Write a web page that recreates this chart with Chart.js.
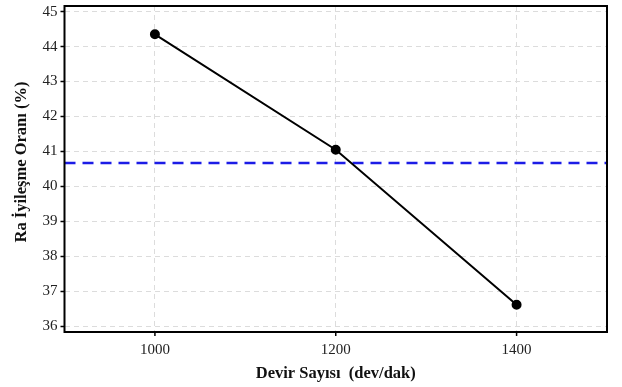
<!DOCTYPE html>
<html>
<head>
<meta charset="utf-8">
<script src="https://cdn.jsdelivr.net/npm/chart.js@4/dist/chart.umd.min.js"></script>
<style>
  html, body { margin: 0; padding: 0; background: #fff; }
  #wrap { width: 622px; height: 387px; position: relative; }
</style>
</head>
<body>
<div id="wrap"><canvas id="chart"></canvas></div>
<script>
// spindle speed vs. Ra improvement
const SPEEDS = [1000, 1200, 1400];
const IMPROVEMENT = [44.35, 41.05, 36.62];
const MEAN_IMPROVEMENT = 40.67;

const X_TICKS = [1000, 1200, 1400];
const Y_TICKS = [36, 37, 38, 39, 40, 41, 42, 43, 44, 45];
const X_RANGE = [900, 1500];
const Y_RANGE = [35.84, 45.16];

const X_TITLE = "Devir Sayısı  (dev/dak)";
const Y_TITLE = "Ra İyileşme Oranı (%)";

const serif = "'Liberation Serif', 'Times New Roman', serif";

// black frame, outward tick marks and the rotated y title
const frame = {
  id: "frame",
  afterDatasetsDraw(chart){
    const a = chart.chartArea, ctx = chart.ctx;
    const xs = chart.scales.x, ys = chart.scales.y;
    ctx.save();
    ctx.strokeStyle = "#000";
    ctx.lineWidth = 1.5;
    ctx.beginPath();
    xs.ticks.forEach(t=>{
      const px = xs.getPixelForValue(t.value);
      ctx.moveTo(px, a.bottom); ctx.lineTo(px, a.bottom + 4);
    });
    ys.ticks.forEach(t=>{
      const py = ys.getPixelForValue(t.value);
      ctx.moveTo(a.left, py); ctx.lineTo(a.left - 4, py);
    });
    ctx.stroke();

    ctx.lineWidth = 2;
    ctx.strokeRect(a.left, a.top, a.right - a.left, a.bottom - a.top);

    ctx.translate(22, 162);
    ctx.rotate(-Math.PI / 2);
    ctx.fillStyle = "#111";
    ctx.font = "bold 16.5px " + serif;
    ctx.textAlign = "center";
    ctx.textBaseline = "middle";
    ctx.fillText(Y_TITLE, 0, 0);
    ctx.restore();
  }
};

const gridOpts = {
  color: "#dcdcdc",
  lineWidth: 1,
  drawTicks: true,
  tickLength: 4,
  tickColor: "rgba(0,0,0,0)"
};

new Chart(document.getElementById("chart"), {
  type: "line",
  data: {
    datasets: [
      {
        data: SPEEDS.map((x, i)=>({ x, y: IMPROVEMENT[i] })),
        borderColor: "#000",
        backgroundColor: "#000",
        borderWidth: 2,
        pointRadius: 4,
        pointBackgroundColor: "#000",
        tension: 0
      },
      {
        data: X_RANGE.map(x=>({ x, y: MEAN_IMPROVEMENT })),
        borderColor: "#1c1ce6",
        borderWidth: 2.5,
        borderDash: [11, 7],
        pointRadius: 0
      }
    ]
  },
  options: {
    responsive: true,
    maintainAspectRatio: false,
    animation: false,
    layout: { padding: { top: 6, right: 15, left: 0, bottom: 0 } },
    plugins: { legend: { display: false }, tooltip: { enabled: false } },
    scales: {
      x: {
        type: "linear",
        min: X_RANGE[0],
        max: X_RANGE[1],
        afterBuildTicks: (s)=>{ s.ticks = X_TICKS.map(v=>({ value: v })); },
        afterFit: (s)=>{ s.height = 55; },
        grid: gridOpts,
        border: { display: false, dash: [5, 4] },
        ticks: {
          color: "#222", padding: 5,
          font: { family: serif, size: 15 },
          callback: (v)=>String(v)
        },
        title: {
          display: true,
          text: X_TITLE,
          color: "#111",
          font: { family: serif, size: 16.5, weight: "bold" },
          padding: { top: 0, bottom: 3 }
        }
      },
      y: {
        min: Y_RANGE[0],
        max: Y_RANGE[1],
        afterBuildTicks: (s)=>{ s.ticks = Y_TICKS.map(v=>({ value: v })); },
        afterFit: (s)=>{
          s.width = 64.5;
          // the end ticks sit inside the range, so no extra room is needed
          s.paddingTop = 0;
          s.paddingBottom = 0;
        },
        grid: gridOpts,
        border: { display: false, dash: [5, 4] },
        ticks: { color: "#222", padding: 3, font: { family: serif, size: 15 } },
        title: { display: false }
      }
    }
  },
  plugins: [frame]
});
</script>
</body>
</html>
